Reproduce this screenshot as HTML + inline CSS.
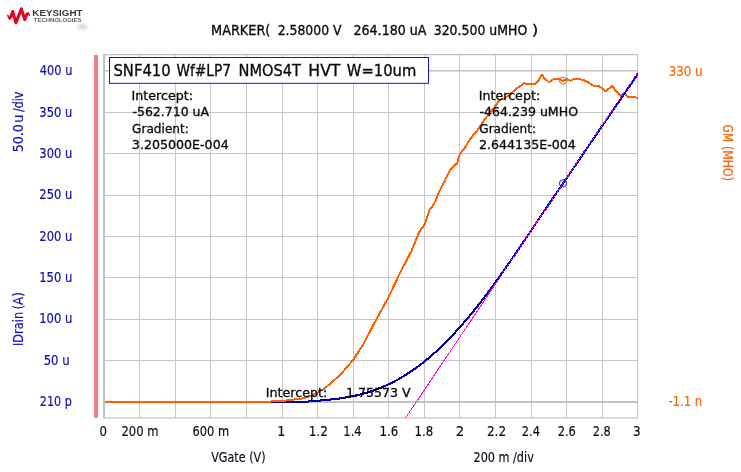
<!DOCTYPE html>
<html lang="en"><head><meta charset="utf-8"><title>SNF410 Wf#LP7 NMOS4T HVT W=10um</title>
<style>html,body{margin:0;padding:0;background:#fff;overflow:hidden}svg{display:block}text{font-family:"DejaVu Sans Condensed", "Liberation Sans", sans-serif;}</style>
</head><body>
<svg width="741" height="472" viewBox="0 0 741 472">
<rect x="0" y="0" width="741" height="472" fill="#ffffff"/>
<g stroke="#c6c6c6" stroke-width="1" fill="none">
<line x1="139.5" y1="54.6" x2="139.5" y2="417.9"/>
<line x1="175.5" y1="54.6" x2="175.5" y2="417.9"/>
<line x1="210.5" y1="54.6" x2="210.5" y2="417.9"/>
<line x1="246.5" y1="54.6" x2="246.5" y2="417.9"/>
<line x1="282.5" y1="54.6" x2="282.5" y2="417.9"/>
<line x1="317.5" y1="54.6" x2="317.5" y2="417.9"/>
<line x1="353.5" y1="54.6" x2="353.5" y2="417.9"/>
<line x1="388.5" y1="54.6" x2="388.5" y2="417.9"/>
<line x1="424.5" y1="54.6" x2="424.5" y2="417.9"/>
<line x1="459.5" y1="54.6" x2="459.5" y2="417.9"/>
<line x1="495.5" y1="54.6" x2="495.5" y2="417.9"/>
<line x1="531.5" y1="54.6" x2="531.5" y2="417.9"/>
<line x1="566.5" y1="54.6" x2="566.5" y2="417.9"/>
<line x1="602.5" y1="54.6" x2="602.5" y2="417.9"/>
<line x1="104.0" y1="112.5" x2="637.9" y2="112.5"/>
<line x1="104.0" y1="153.5" x2="637.9" y2="153.5"/>
<line x1="104.0" y1="195.5" x2="637.9" y2="195.5"/>
<line x1="104.0" y1="236.5" x2="637.9" y2="236.5"/>
<line x1="104.0" y1="277.5" x2="637.9" y2="277.5"/>
<line x1="104.0" y1="319.5" x2="637.9" y2="319.5"/>
<line x1="104.0" y1="360.5" x2="637.9" y2="360.5"/>
</g>
<g stroke="#c0c0c0" fill="none">
<path d="M104.03 54.0 V418.4" stroke-width="2"/>
<path d="M103.0 54.65 H638.1" stroke-width="1.3"/>
<path d="M637.58 54.6 V418.4" stroke-width="1.1" stroke="#c4c4c4"/>
<path d="M104.0 417.90 H638.1" stroke-width="1.1" stroke="#c4c4c4"/>
<path d="M104.0 402.00 H637.9" stroke-width="2" stroke="#c2c2c2"/>
<path d="M104.0 70.85 H637.9" stroke-width="1.5" stroke="#c2c2c2"/>
</g>
<rect x="94" y="55" width="4" height="362.8" fill="#f08080"/>
<clipPath id="pc"><rect x="103.5" y="54.6" width="534.5" height="363.7"/></clipPath>
<g clip-path="url(#pc)" fill="none" stroke-linejoin="round" stroke-linecap="butt" shape-rendering="crispEdges">
<path d="M271.0 402.1 L300.0 402.1 L310.0 401.4 L314.0 401.1 L318.0 400.8 L322.0 400.4 L326.0 400.0 L330.0 399.6 L334.0 399.2 L338.0 398.7 L342.0 398.1 L346.0 397.4 L350.0 396.7 L354.0 395.9 L358.0 395.0 L362.0 394.0 L366.0 392.9 L370.0 391.6 L374.0 390.3 L378.0 388.8 L382.0 387.2 L386.0 385.5 L390.0 383.6 L394.0 381.6 L398.0 379.5 L402.0 377.2 L406.0 374.7 L410.0 372.1 L414.0 369.4 L418.0 366.5 L422.0 363.5 L426.0 360.3 L430.0 356.9 L434.0 353.4 L438.0 349.8 L442.0 346.0 L446.0 342.0 L450.0 337.9 L454.0 333.7 L458.0 329.3 L462.0 324.8 L466.0 320.2 L470.0 315.4 L474.0 310.5 L478.0 305.5 L482.0 300.4 L486.0 295.1 L490.0 289.8 L494.0 284.3 L498.0 278.8 L502.0 273.2 L506.0 267.5 L510.0 261.7 L514.0 255.9 L518.0 250.0 L522.0 244.1 L526.0 238.2 L530.0 232.2 L534.0 226.2 L538.0 220.3 L542.0 214.3 L546.0 208.4 L550.0 202.5 L554.0 196.6 L558.0 190.8 L562.0 185.1 L562.9 183.7 L600.0 129.1 L638.4 73.2" stroke="#0000a4" stroke-width="2.1"/>
<path d="M104.6 401.8 L270.5 401.8 L271.5 401.1 L281.0 401.0 L291.3 399.9 L303.2 398.3 L311.8 395.4 L318.0 392.4 L324.8 388.4 L332.7 381.5 L340.0 375.0 L342.4 372.4 L353.5 359.4 L363.1 344.6 L376.2 319.5 L388.5 297.3 L399.4 274.2 L409.5 254.6 L411.4 251.0 L419.5 231.3 L424.6 224.6 L429.5 210.1 L435.1 202.3 L438.4 193.4 L445.1 180.1 L449.5 171.1 L454.0 165.6 L456.9 163.8 L459.6 154.5 L464.8 147.8 L469.1 140.4 L473.3 135.1 L478.6 128.7 L483.9 120.3 L489.2 113.9 L495.6 105.4 L499.8 100.1 L505.1 98.0 L510.4 93.8 L516.7 88.5 L524.2 83.2 L527.3 84.2 L531.6 83.8 L535.0 83.8 L538.0 81.5 L541.7 74.8 L545.4 79.3 L549.1 82.3 L553.6 79.0 L558.8 78.6 L562.5 80.8 L566.9 79.3 L570.6 80.8 L574.3 79.0 L579.5 79.0 L584.7 80.5 L589.2 83.0 L593.6 86.0 L599.6 86.4 L605.5 91.2 L612.2 86.0 L616.6 91.9 L620.4 95.6 L624.1 93.8 L628.5 97.1 L633.0 97.1 L638.4 97.9" stroke="#ff6000" stroke-width="2"/>
<path d="M482.0 300.4 L486.0 295.1 L490.0 289.8 L494.0 284.3 L498.0 278.8 L502.0 273.2 L506.0 267.5 L510.0 261.7 L514.0 255.9 L518.0 250.0 L522.0 244.1 L526.0 238.2 L530.0 232.2 L534.0 226.2 L538.0 220.3 L542.0 214.3 L546.0 208.4 L550.0 202.5 L554.0 196.6 L558.0 190.8 L562.0 185.1 L562.9 183.7 L600.0 129.1 L638.4 73.2" stroke="#0000a4" stroke-width="2.1"/>
<path d="M498.0 278.8 L502.0 273.2 L506.0 267.5 L510.0 261.7 L514.0 255.9 L518.0 250.0 L522.0 244.1 L526.0 238.2 L530.0 232.2 L534.0 226.2 L538.0 220.3 L542.0 214.3 L546.0 208.4 L550.0 202.5 L554.0 196.6 L558.0 190.8 L562.0 185.1 L562.9 183.7 L600.0 129.1 L638.4 73.2" stroke="#0000d0" stroke-width="2.1"/>
<path d="M405.5 418.0 L497.0 281.7" stroke="#ff10d0" stroke-width="1"/>
<path d="M497.0 281.7 L638.4 71.2" stroke="#ff10d0" stroke-width="1" stroke-dasharray="1.6 1.3"/>
</g>
<circle cx="563.0" cy="80.6" r="3.6" fill="none" stroke="#ff6000" stroke-width="1"/>
<circle cx="563.0" cy="183.3" r="3.6" fill="none" stroke="#1414c4" stroke-width="1"/>
<rect x="109.5" y="57.5" width="319" height="25.8" fill="#fff" stroke="#1616c0" stroke-width="1"/>
<g id="logo">
<ellipse cx="82.3" cy="26.7" rx="5.4" ry="2.9" fill="#d9d9d9" filter="url(#bl)"/>
<filter id="bl" x="-50%" y="-50%" width="200%" height="200%"><feGaussianBlur stdDeviation="1.5"/></filter>
<g fill="none" stroke="#e60020" stroke-linejoin="round" stroke-linecap="round">
<path d="M7.8 15.4 L9.6 19.4 L12.8 11.0 L15.9 23.4 L21.4 8.2 L24.7 20.2 L27.9 12.6 L29.3 15.2" stroke-width="1.5"/>
<path d="M10.6 17.2 L12.8 11.6 L15.9 22.8 L21.4 8.9 L24.7 19.6 L26.8 14.4" stroke-width="3.0"/>
</g>
</g>
<text id="h1" x="211.06" y="35.10" font-size="13.30" fill="#0a0a0a" stroke="#0a0a0a" stroke-width="0.30" textLength="59.35" lengthAdjust="spacingAndGlyphs" xml:space="preserve">MARKER(</text>
<text id="h2" x="277.67" y="35.10" font-size="13.30" fill="#0a0a0a" stroke="#0a0a0a" stroke-width="0.30" textLength="63.92" lengthAdjust="spacingAndGlyphs" xml:space="preserve">2.58000 V</text>
<text id="h3" x="353.50" y="35.10" font-size="13.30" fill="#0a0a0a" stroke="#0a0a0a" stroke-width="0.30" textLength="72.93" lengthAdjust="spacingAndGlyphs" xml:space="preserve">264.180 uA</text>
<text id="h4" x="433.72" y="35.10" font-size="13.30" fill="#0a0a0a" stroke="#0a0a0a" stroke-width="0.30" textLength="93.54" lengthAdjust="spacingAndGlyphs" xml:space="preserve">320.500 uMHO</text>
<text id="h5" x="532.00" y="35.10" font-size="13.30" fill="#0a0a0a" stroke="#0a0a0a" stroke-width="0.30" textLength="6.23" lengthAdjust="spacingAndGlyphs" xml:space="preserve">)</text>
<text id="t1" x="113.49" y="76.00" font-size="15.30" fill="#0a0a0a" stroke="#0a0a0a" stroke-width="0.30" textLength="57.10" lengthAdjust="spacingAndGlyphs" xml:space="preserve">SNF410</text>
<text id="t2" x="176.40" y="76.00" font-size="15.30" fill="#0a0a0a" stroke="#0a0a0a" stroke-width="0.30" textLength="54.65" lengthAdjust="spacingAndGlyphs" xml:space="preserve">Wf#LP7</text>
<text id="t3" x="238.54" y="76.00" font-size="15.30" fill="#0a0a0a" stroke="#0a0a0a" stroke-width="0.30" textLength="62.36" lengthAdjust="spacingAndGlyphs" xml:space="preserve">NMOS4T</text>
<text id="t4" x="308.37" y="76.00" font-size="15.30" fill="#0a0a0a" stroke="#0a0a0a" stroke-width="0.30" textLength="32.09" lengthAdjust="spacingAndGlyphs" xml:space="preserve">HVT</text>
<text id="t5" x="346.87" y="76.00" font-size="15.30" fill="#0a0a0a" stroke="#0a0a0a" stroke-width="0.30" textLength="69.49" lengthAdjust="spacingAndGlyphs" xml:space="preserve">W=10um</text>
<text id="l1" x="131.57" y="99.50" font-size="13.00" fill="#0a0a0a" stroke="#0a0a0a" stroke-width="0.30" textLength="61.49" lengthAdjust="spacingAndGlyphs" xml:space="preserve">Intercept:</text>
<text id="l2" x="132.47" y="116.00" font-size="13.00" fill="#0a0a0a" stroke="#0a0a0a" stroke-width="0.30" textLength="76.53" lengthAdjust="spacingAndGlyphs" xml:space="preserve">-562.710 uA</text>
<text id="l3" x="132.13" y="132.50" font-size="13.00" fill="#0a0a0a" stroke="#0a0a0a" stroke-width="0.30" textLength="56.72" lengthAdjust="spacingAndGlyphs" xml:space="preserve">Gradient:</text>
<text id="l4" x="131.85" y="149.10" font-size="13.00" fill="#0a0a0a" stroke="#0a0a0a" stroke-width="0.30" textLength="96.87" lengthAdjust="spacingAndGlyphs" xml:space="preserve">3.205000E-004</text>
<text id="r1" x="478.71" y="99.50" font-size="13.00" fill="#0a0a0a" stroke="#0a0a0a" stroke-width="0.30" textLength="61.49" lengthAdjust="spacingAndGlyphs" xml:space="preserve">Intercept:</text>
<text id="r2" x="479.46" y="116.00" font-size="13.00" fill="#0a0a0a" stroke="#0a0a0a" stroke-width="0.30" textLength="98.57" lengthAdjust="spacingAndGlyphs" xml:space="preserve">-464.239 uMHO</text>
<text id="r3" x="479.28" y="132.50" font-size="13.00" fill="#0a0a0a" stroke="#0a0a0a" stroke-width="0.30" textLength="56.72" lengthAdjust="spacingAndGlyphs" xml:space="preserve">Gradient:</text>
<text id="r4" x="478.99" y="149.10" font-size="13.00" fill="#0a0a0a" stroke="#0a0a0a" stroke-width="0.30" textLength="96.87" lengthAdjust="spacingAndGlyphs" xml:space="preserve">2.644135E-004</text>
<text id="b1" x="265.71" y="397.30" font-size="13.00" fill="#0a0a0a" stroke="#0a0a0a" stroke-width="0.30" textLength="61.54" lengthAdjust="spacingAndGlyphs" xml:space="preserve">Intercept:</text>
<text id="b2" x="345.92" y="397.30" font-size="13.00" fill="#0a0a0a" stroke="#0a0a0a" stroke-width="0.30" textLength="64.69" lengthAdjust="spacingAndGlyphs" xml:space="preserve">1.75573 V</text>
<text id="y0" x="39.85" y="75.39" font-size="13.90" fill="#1010a8" stroke="#1010a8" stroke-width="0.18" textLength="32.52" lengthAdjust="spacingAndGlyphs" xml:space="preserve">400 u</text>
<text id="y1" x="39.36" y="116.74" font-size="13.90" fill="#1010a8" stroke="#1010a8" stroke-width="0.18" textLength="33.02" lengthAdjust="spacingAndGlyphs" xml:space="preserve">350 u</text>
<text id="y2" x="39.36" y="158.08" font-size="13.90" fill="#1010a8" stroke="#1010a8" stroke-width="0.18" textLength="33.02" lengthAdjust="spacingAndGlyphs" xml:space="preserve">300 u</text>
<text id="y3" x="39.36" y="199.43" font-size="13.90" fill="#1010a8" stroke="#1010a8" stroke-width="0.18" textLength="33.02" lengthAdjust="spacingAndGlyphs" xml:space="preserve">250 u</text>
<text id="y4" x="39.36" y="240.78" font-size="13.90" fill="#1010a8" stroke="#1010a8" stroke-width="0.18" textLength="33.02" lengthAdjust="spacingAndGlyphs" xml:space="preserve">200 u</text>
<text id="y5" x="39.14" y="282.12" font-size="13.90" fill="#1010a8" stroke="#1010a8" stroke-width="0.18" textLength="33.24" lengthAdjust="spacingAndGlyphs" xml:space="preserve">150 u</text>
<text id="y6" x="39.14" y="323.47" font-size="13.90" fill="#1010a8" stroke="#1010a8" stroke-width="0.18" textLength="33.24" lengthAdjust="spacingAndGlyphs" xml:space="preserve">100 u</text>
<text id="y7" x="43.65" y="364.82" font-size="13.90" fill="#1010a8" stroke="#1010a8" stroke-width="0.18" textLength="26.03" lengthAdjust="spacingAndGlyphs" xml:space="preserve">50 u</text>
<text id="y8" x="39.83" y="405.72" font-size="13.90" fill="#1010a8" stroke="#1010a8" stroke-width="0.18" textLength="31.98" lengthAdjust="spacingAndGlyphs" xml:space="preserve">210 p</text>
<text id="g0" x="668.70" y="75.70" font-size="13.90" fill="#ff6208" stroke="#ff6208" stroke-width="0.15" textLength="33.90" lengthAdjust="spacingAndGlyphs" xml:space="preserve">330 u</text>
<text id="g1" x="668.39" y="405.60" font-size="13.90" fill="#ff6208" stroke="#ff6208" stroke-width="0.15" textLength="33.88" lengthAdjust="spacingAndGlyphs" xml:space="preserve">-1.1 n</text>
<text id="x0" x="99.55" y="435.60" font-size="13.90" fill="#0a0a1e" stroke="#0a0a1e" stroke-width="0.15" textLength="7.47" lengthAdjust="spacingAndGlyphs" xml:space="preserve">0</text>
<text id="x1" x="121.52" y="435.60" font-size="13.90" fill="#0a0a1e" stroke="#0a0a1e" stroke-width="0.15" textLength="37.00" lengthAdjust="spacingAndGlyphs" xml:space="preserve">200 m</text>
<text id="x3" x="192.51" y="435.60" font-size="13.90" fill="#0a0a1e" stroke="#0a0a1e" stroke-width="0.15" textLength="36.55" lengthAdjust="spacingAndGlyphs" xml:space="preserve">600 m</text>
<text id="x5" x="277.23" y="435.60" font-size="13.90" fill="#0a0a1e" stroke="#0a0a1e" stroke-width="0.15" textLength="8.10" lengthAdjust="spacingAndGlyphs" xml:space="preserve">1</text>
<text id="x6" x="308.65" y="435.60" font-size="13.90" fill="#0a0a1e" stroke="#0a0a1e" stroke-width="0.15" textLength="19.19" lengthAdjust="spacingAndGlyphs" xml:space="preserve">1.2</text>
<text id="x7" x="343.35" y="435.60" font-size="13.90" fill="#0a0a1e" stroke="#0a0a1e" stroke-width="0.15" textLength="18.33" lengthAdjust="spacingAndGlyphs" xml:space="preserve">1.4</text>
<text id="x8" x="379.47" y="435.60" font-size="13.90" fill="#0a0a1e" stroke="#0a0a1e" stroke-width="0.15" textLength="18.82" lengthAdjust="spacingAndGlyphs" xml:space="preserve">1.6</text>
<text id="x9" x="414.62" y="435.60" font-size="13.90" fill="#0a0a1e" stroke="#0a0a1e" stroke-width="0.15" textLength="18.76" lengthAdjust="spacingAndGlyphs" xml:space="preserve">1.8</text>
<text id="x10" x="455.75" y="435.60" font-size="13.90" fill="#0a0a1e" stroke="#0a0a1e" stroke-width="0.15" textLength="8.48" lengthAdjust="spacingAndGlyphs" xml:space="preserve">2</text>
<text id="x11" x="486.93" y="435.60" font-size="13.90" fill="#0a0a1e" stroke="#0a0a1e" stroke-width="0.15" textLength="19.21" lengthAdjust="spacingAndGlyphs" xml:space="preserve">2.2</text>
<text id="x12" x="521.87" y="435.60" font-size="13.90" fill="#0a0a1e" stroke="#0a0a1e" stroke-width="0.15" textLength="18.16" lengthAdjust="spacingAndGlyphs" xml:space="preserve">2.4</text>
<text id="x13" x="557.67" y="435.60" font-size="13.90" fill="#0a0a1e" stroke="#0a0a1e" stroke-width="0.15" textLength="18.25" lengthAdjust="spacingAndGlyphs" xml:space="preserve">2.6</text>
<text id="x14" x="592.67" y="435.60" font-size="13.90" fill="#0a0a1e" stroke="#0a0a1e" stroke-width="0.15" textLength="18.13" lengthAdjust="spacingAndGlyphs" xml:space="preserve">2.8</text>
<text id="x15" x="632.98" y="435.60" font-size="13.90" fill="#0a0a1e" stroke="#0a0a1e" stroke-width="0.15" textLength="7.70" lengthAdjust="spacingAndGlyphs" xml:space="preserve">3</text>
<text id="ax" x="211.17" y="461.80" font-size="13.90" fill="#0a0a1e" stroke="#0a0a1e" stroke-width="0.15" textLength="54.37" lengthAdjust="spacingAndGlyphs" xml:space="preserve">VGate (V)</text>
<text id="ad" x="473.49" y="461.80" font-size="13.90" fill="#0a0a1e" stroke="#0a0a1e" stroke-width="0.15" textLength="60.31" lengthAdjust="spacingAndGlyphs" xml:space="preserve">200 m /div</text>
<text id="v1a" transform="translate(22.90,152.20) rotate(-90)" font-size="13.90" fill="#1010a8" stroke="#1010a8" stroke-width="0.15" textLength="27.99" lengthAdjust="spacingAndGlyphs" xml:space="preserve">50.0</text>
<text id="v1b" transform="translate(22.90,122.73) rotate(-90)" font-size="13.90" fill="#1010a8" stroke="#1010a8" stroke-width="0.15" textLength="8.10" lengthAdjust="spacingAndGlyphs" xml:space="preserve">u</text>
<text id="v1c" transform="translate(22.90,112.06) rotate(-90)" font-size="13.90" fill="#1010a8" stroke="#1010a8" stroke-width="0.15" textLength="20.44" lengthAdjust="spacingAndGlyphs" xml:space="preserve">/div</text>
<text id="v2a" transform="translate(22.90,346.00) rotate(-90)" font-size="13.90" fill="#1010a8" stroke="#1010a8" stroke-width="0.15" textLength="34.12" lengthAdjust="spacingAndGlyphs" xml:space="preserve">IDrain</text>
<text id="v2b" transform="translate(22.90,309.62) rotate(-90)" font-size="13.90" fill="#1010a8" stroke="#1010a8" stroke-width="0.15" textLength="17.54" lengthAdjust="spacingAndGlyphs" xml:space="preserve">(A)</text>
<text id="v3a" transform="translate(723.00,124.44) rotate(90)" font-size="13.90" fill="#ff6208" stroke="#ff6208" stroke-width="0.15" textLength="17.48" lengthAdjust="spacingAndGlyphs" xml:space="preserve">GM</text>
<text id="v3b" transform="translate(723.00,146.06) rotate(90)" font-size="13.90" fill="#ff6208" stroke="#ff6208" stroke-width="0.15" textLength="34.99" lengthAdjust="spacingAndGlyphs" xml:space="preserve">(MHO)</text>
<text id="k1" x="32.36" y="15.50" font-size="9.30" fill="#3a3a3a" textLength="50.18" lengthAdjust="spacingAndGlyphs" style="font-family:'Liberation Sans', sans-serif;font-weight:bold;" xml:space="preserve">KEYSIGHT</text>
<text id="k2" x="33.79" y="21.60" font-size="4.90" fill="#5e5e5e" textLength="47.63" lengthAdjust="spacingAndGlyphs" style="font-family:'Liberation Sans', sans-serif;font-weight:bold;" xml:space="preserve">TECHNOLOGIES</text>
</svg></body></html>
